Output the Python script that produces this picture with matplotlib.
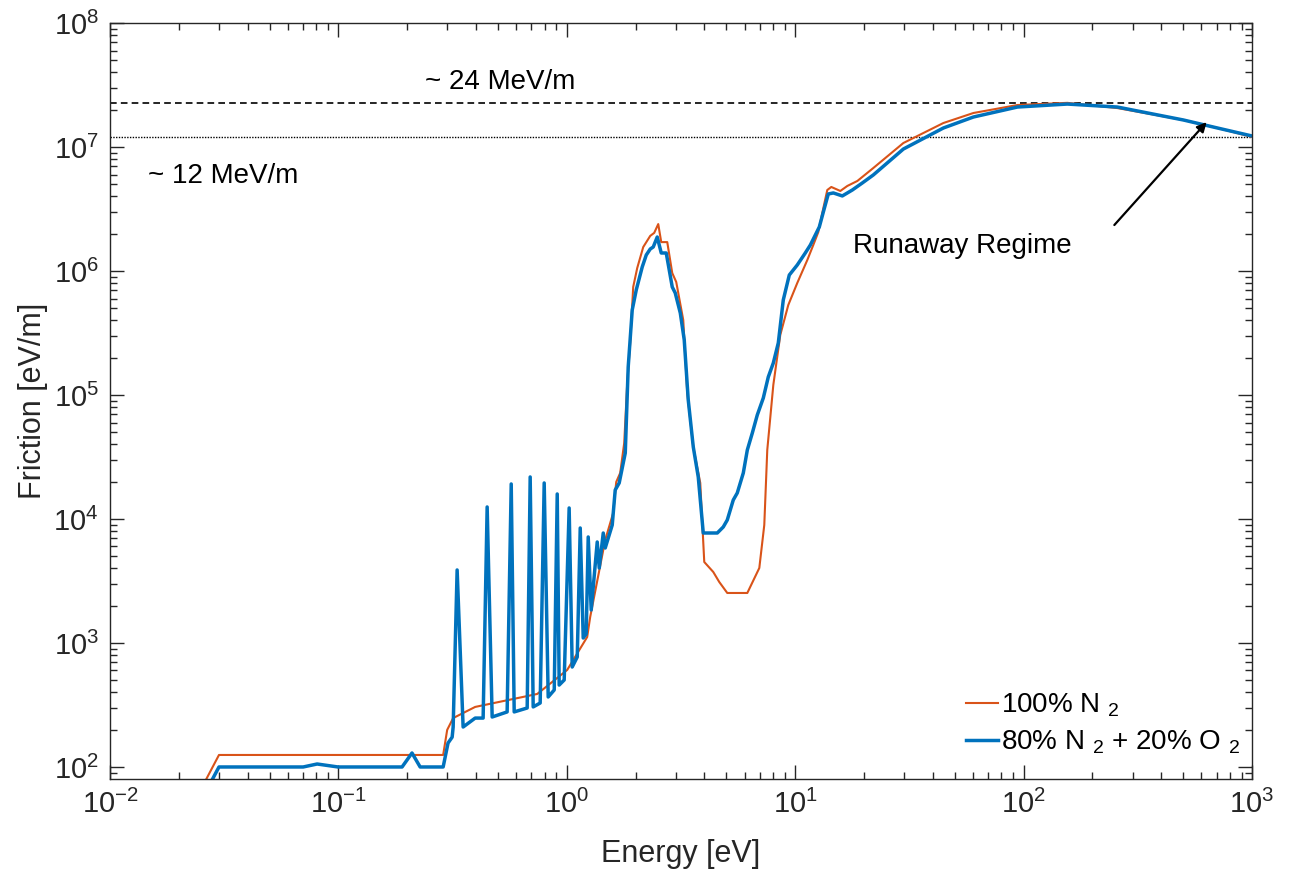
import numpy as np
import matplotlib
matplotlib.use("Agg")
import matplotlib.pyplot as plt
from matplotlib.ticker import FixedLocator, NullFormatter, LogFormatterMathtext

plt.rcParams['font.family'] = ['Liberation Sans', 'DejaVu Sans']
plt.rcParams['mathtext.fontset'] = 'custom'
plt.rcParams['mathtext.rm'] = 'Liberation Sans'
plt.rcParams['mathtext.it'] = 'Liberation Sans:italic'
plt.rcParams['mathtext.bf'] = 'Liberation Sans:bold'

# 100% N2
e_n2 = [0.025, 0.0300, 0.2875, 0.2994, 0.318, 0.397, 0.742, 1.004, 1.228, 1.266,
        1.473, 1.596, 1.646, 1.713, 1.784, 1.839, 1.895, 1.953, 2.034, 2.161,
        2.319, 2.414, 2.514, 2.591, 2.753, 2.895, 3.014, 3.235, 3.368, 3.579,
        3.840, 3.998, 4.378, 4.650, 5.042, 6.171, 6.964, 7.322, 7.546, 8.02,
        8.604, 9.328, 10.21, 11.30, 12.0, 12.62, 13.14, 13.82, 14.39, 15.76,
        16.91, 18.71, 21.98, 29.76, 44.54, 60.28, 93.93, 155.5, 257.5, 501,
        706, 1000]
f_n2 = [66, 125, 125, 199, 248, 305, 388, 606, 1117, 1621,
        6770, 11180, 19880, 23500, 41000, 1.25e5, 2.63e5, 7.43e5, 1.057e6, 1.56e6,
        1.92e6, 2.03e6, 2.39e6, 1.71e6, 1.71e6, 9.63e5, 8.15e5, 4.02e5, 1.04e5, 38080,
        19520, 4500, 3738, 3105, 2531, 2531, 4025, 8946, 36020, 1.204e5,
        3.05e5, 5.32e5, 8.0e5, 1.227e6, 1.62e6, 2.06e6, 2.94e6, 4.5e6, 4.76e6, 4.42e6,
        4.85e6, 5.32e6, 6.77e6, 1.077e7, 1.561e7, 1.88e7, 2.18e7, 2.27e7, 2.06e7, 1.651e7,
        1.423e7, 1.204e7]

# 80% N2 + 20% O2
e_air = [0.0266, 0.0300, 0.0701, 0.0807, 0.0997, 0.190, 0.210, 0.228, 0.2875, 0.302,
         0.3148, 0.318, 0.331, 0.3516, 0.397, 0.4302, 0.448, 0.4712, 0.548, 0.571,
         0.5884, 0.6707, 0.6913, 0.7126, 0.7646, 0.7962, 0.829, 0.881, 0.908, 0.926,
         0.974, 1.024, 1.056, 1.111, 1.145, 1.180, 1.216, 1.241, 1.279, 1.359,
         1.387, 1.444, 1.473, 1.581, 1.629, 1.696, 1.803, 1.857, 1.934, 2.014,
         2.139, 2.228, 2.319, 2.390, 2.489, 2.591, 2.725, 2.895, 2.984, 3.14,
         3.267, 3.402, 3.579, 3.763, 3.958, 4.559, 4.842, 5.042, 5.356, 5.576,
         5.926, 6.171, 6.49, 6.823, 7.25, 7.623, 8.02, 8.433, 8.868, 9.422,
         10.21, 11.07, 11.65, 12.25, 12.75, 13.28, 13.96, 14.69, 16.08, 17.79,
         19.68, 21.98, 29.76, 44.54, 60.28, 93.93, 155.5, 257.5, 501, 706,
         1000]
f_air = [66, 100, 100, 105.7, 100, 100, 129.7, 100, 100, 156,
         174, 210, 3880, 210, 248, 248, 12500, 253, 278, 19160,
         278, 299, 21820, 305, 328, 19520, 367, 418, 15910, 458,
         503, 12270, 640, 771, 8460, 1097, 1181, 7160, 1846, 6525,
         4025, 7710, 5835, 8946, 17130, 19520, 34060, 1.68e5, 4.85e5, 7.03e5,
         1.077e6, 1.346e6, 1.504e6, 1.561e6, 1.88e6, 1.397e6, 1.397e6, 7.43e5, 6.65e5, 4.58e5,
         2.78e5, 9.11e4, 38080, 21820, 7710, 7710, 8620, 9815, 14230, 16210,
         23500, 36020, 49370, 68970, 94590, 1.397e5, 1.812e5, 2.63e5, 5.84e5, 9.28e5,
         1.118e6, 1.397e6, 1.62e6, 1.952e6, 2.264e6, 2.99e6, 4.18e6, 4.26e6, 4.03e6, 4.5e6,
         5.13e6, 5.95e6, 9.63e6, 1.423e7, 1.745e7, 2.10e7, 2.22e7, 2.10e7, 1.651e7, 1.423e7,
         1.227e7]

level_24 = 2.25e7
level_12 = 1.2e7

x_major = [1e-2, 1e-1, 1e0, 1e1, 1e2, 1e3]
y_major = [1e2, 1e3, 1e4, 1e5, 1e6, 1e7, 1e8]

c_orange = '#D95319'
c_blue = '#0072BD'
c_axis = '#262626'

fig = plt.figure(figsize=(12.92, 8.73), dpi=100)
ax = fig.add_axes([110/1292, 1 - 779/873, 1142/1292, 756/873])

ax.axhline(level_24, color='k', ls=(0, (4, 2.5)), lw=1.2)
ax.axhline(level_12, color='k', ls=(0, (1, 1)), lw=1.0)
ax.plot(e_n2, f_n2, color=c_orange, lw=1.5, label='100% N $_{2}$')
ax.plot(e_air, f_air, color=c_blue, lw=2.5, label='80% N $_{2}$ + 20% O $_{2}$')

ax.set_xscale('log')
ax.set_yscale('log')
ax.set_xlim(1e-2, 1e3)
ax.set_ylim(80, 1e8)

x_minor = [m * 10.0**k for k in range(-2, 3) for m in range(2, 10)]
y_minor = [m * 10.0**k for k in range(1, 8) for m in range(2, 10) if m * 10.0**k > 80]
ax.xaxis.set_major_locator(FixedLocator(x_major))
ax.yaxis.set_major_locator(FixedLocator(y_major))
ax.xaxis.set_major_formatter(LogFormatterMathtext())
ax.yaxis.set_major_formatter(LogFormatterMathtext())
ax.xaxis.set_minor_locator(FixedLocator(x_minor))
ax.yaxis.set_minor_locator(FixedLocator(y_minor))
ax.xaxis.set_minor_formatter(NullFormatter())
ax.yaxis.set_minor_formatter(NullFormatter())

ax.tick_params(which='both', direction='in', top=True, right=True, colors=c_axis, width=1.0)
ax.tick_params(which='major', length=10, labelsize=21, pad=8)
ax.tick_params(which='minor', length=5)
for s in ax.spines.values():
    s.set_color(c_axis)
    s.set_linewidth(1.0)

ax.set_xlabel('Energy [eV]', fontsize=22, color=c_axis, labelpad=14)
ax.set_ylabel('Friction [eV/m]', fontsize=22, color=c_axis, labelpad=4)

ax.text(0.240, 3.34e7, '~ 24 MeV/m', fontsize=20, va='center', ha='left')
ax.text(0.01467, 5.83e6, '~ 12 MeV/m', fontsize=20, va='center', ha='left')
ax.text(17.97, 1.59e6, 'Runaway Regime', fontsize=20, va='center', ha='left')
ax.annotate('', xy=(645, 1.65e7), xytext=(245, 2.26e6),
            arrowprops=dict(arrowstyle='-|>', color='k', lw=1.6, mutation_scale=14))

ax.legend(loc='lower right', bbox_to_anchor=(1.004, 0.008), frameon=False, fontsize=20,
          handlelength=1.15, handletextpad=0.1, borderaxespad=0.2, labelspacing=0.35)

fig.savefig('out.png', dpi=100)
